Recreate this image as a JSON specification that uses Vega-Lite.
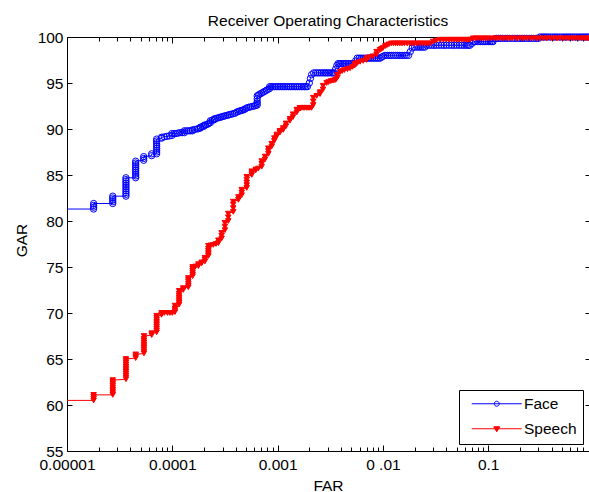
{
  "$schema": "https://vega.github.io/schema/vega-lite/v6.json",
  "width": 522,
  "height": 414,
  "autosize": {"type": "none"},
  "padding": {"left": 67, "top": 37, "right": 0, "bottom": 41},
  "background": "white",
  "title": {
    "text": "Receiver Operating Characteristics",
    "font": "Liberation Sans",
    "fontSize": 15.5,
    "fontWeight": "normal",
    "color": "black",
    "anchor": "middle",
    "baseline": "alphabetic",
    "offset": -11
  },
  "config": {
    "view": {"stroke": null},
    "axis": {
      "grid": false,
      "domainColor": "black",
      "domainWidth": 1,
      "tickColor": "black",
      "tickWidth": 1,
      "labelColor": "black",
      "labelFont": "Liberation Sans",
      "labelFontSize": 15.5,
      "titleFont": "Liberation Sans",
      "titleFontSize": 15.5,
      "titleFontWeight": "normal",
      "titleColor": "black",
      "labelFlush": false,
      "labelOverlap": false,
      "labelBound": false
    }
  },
  "data": {
    "values": [
      {"series": "Face", "far": 1e-5, "gar": 81.3},
      {"series": "Face", "far": 1.79e-5, "gar": 81.3},
      {"series": "Face", "far": 1.79e-5, "gar": 81.5},
      {"series": "Face", "far": 1.79e-5, "gar": 81.7},
      {"series": "Face", "far": 1.79e-5, "gar": 81.9},
      {"series": "Face", "far": 2.72e-5, "gar": 81.9},
      {"series": "Face", "far": 2.72e-5, "gar": 82.1},
      {"series": "Face", "far": 2.72e-5, "gar": 82.3},
      {"series": "Face", "far": 2.72e-5, "gar": 82.5},
      {"series": "Face", "far": 2.72e-5, "gar": 82.7},
      {"series": "Face", "far": 3.63e-5, "gar": 82.7},
      {"series": "Face", "far": 3.63e-5, "gar": 82.9},
      {"series": "Face", "far": 3.63e-5, "gar": 83.1},
      {"series": "Face", "far": 3.63e-5, "gar": 83.3},
      {"series": "Face", "far": 3.63e-5, "gar": 83.5},
      {"series": "Face", "far": 3.63e-5, "gar": 83.7},
      {"series": "Face", "far": 3.63e-5, "gar": 83.9},
      {"series": "Face", "far": 3.63e-5, "gar": 84.1},
      {"series": "Face", "far": 3.63e-5, "gar": 84.3},
      {"series": "Face", "far": 3.63e-5, "gar": 84.5},
      {"series": "Face", "far": 3.63e-5, "gar": 84.7},
      {"series": "Face", "far": 4.49e-5, "gar": 84.7},
      {"series": "Face", "far": 4.49e-5, "gar": 84.9},
      {"series": "Face", "far": 4.49e-5, "gar": 85.1},
      {"series": "Face", "far": 4.49e-5, "gar": 85.3},
      {"series": "Face", "far": 4.49e-5, "gar": 85.5},
      {"series": "Face", "far": 4.49e-5, "gar": 85.7},
      {"series": "Face", "far": 4.49e-5, "gar": 85.9},
      {"series": "Face", "far": 4.49e-5, "gar": 86.1},
      {"series": "Face", "far": 4.49e-5, "gar": 86.3},
      {"series": "Face", "far": 4.49e-5, "gar": 86.5},
      {"series": "Face", "far": 5.35e-5, "gar": 86.6},
      {"series": "Face", "far": 5.35e-5, "gar": 86.8},
      {"series": "Face", "far": 5.35e-5, "gar": 87.0},
      {"series": "Face", "far": 6.37e-5, "gar": 87.1},
      {"series": "Face", "far": 6.37e-5, "gar": 87.3},
      {"series": "Face", "far": 7.1e-5, "gar": 87.3},
      {"series": "Face", "far": 7.1e-5, "gar": 87.5},
      {"series": "Face", "far": 7.1e-5, "gar": 87.7},
      {"series": "Face", "far": 7.1e-5, "gar": 87.9},
      {"series": "Face", "far": 7.1e-5, "gar": 88.1},
      {"series": "Face", "far": 7.1e-5, "gar": 88.3},
      {"series": "Face", "far": 7.1e-5, "gar": 88.5},
      {"series": "Face", "far": 7.1e-5, "gar": 88.7},
      {"series": "Face", "far": 7.1e-5, "gar": 88.9},
      {"series": "Face", "far": 7.9e-5, "gar": 89.0},
      {"series": "Face", "far": 7.9e-5, "gar": 89.1},
      {"series": "Face", "far": 8.4e-5, "gar": 89.15},
      {"series": "Face", "far": 8.9e-5, "gar": 89.2},
      {"series": "Face", "far": 9.4e-5, "gar": 89.25},
      {"series": "Face", "far": 9.9e-5, "gar": 89.3},
      {"series": "Face", "far": 9.9e-5, "gar": 89.5},
      {"series": "Face", "far": 1.04e-4, "gar": 89.5},
      {"series": "Face", "far": 1.08e-4, "gar": 89.5},
      {"series": "Face", "far": 1.13e-4, "gar": 89.55},
      {"series": "Face", "far": 1.18e-4, "gar": 89.6},
      {"series": "Face", "far": 1.24e-4, "gar": 89.6},
      {"series": "Face", "far": 1.3e-4, "gar": 89.6},
      {"series": "Face", "far": 1.3e-4, "gar": 89.8},
      {"series": "Face", "far": 1.36e-4, "gar": 89.8},
      {"series": "Face", "far": 1.42e-4, "gar": 89.8},
      {"series": "Face", "far": 1.48e-4, "gar": 89.8},
      {"series": "Face", "far": 1.55e-4, "gar": 89.8},
      {"series": "Face", "far": 1.55e-4, "gar": 89.9},
      {"series": "Face", "far": 1.63e-4, "gar": 89.95},
      {"series": "Face", "far": 1.72e-4, "gar": 90.0},
      {"series": "Face", "far": 1.78e-4, "gar": 90.05},
      {"series": "Face", "far": 1.85e-4, "gar": 90.1},
      {"series": "Face", "far": 1.85e-4, "gar": 90.2},
      {"series": "Face", "far": 1.92e-4, "gar": 90.25},
      {"series": "Face", "far": 2.0e-4, "gar": 90.3},
      {"series": "Face", "far": 2.0e-4, "gar": 90.4},
      {"series": "Face", "far": 2.07e-4, "gar": 90.45},
      {"series": "Face", "far": 2.15e-4, "gar": 90.5},
      {"series": "Face", "far": 2.22e-4, "gar": 90.6},
      {"series": "Face", "far": 2.3e-4, "gar": 90.7},
      {"series": "Face", "far": 2.3e-4, "gar": 90.9},
      {"series": "Face", "far": 2.4e-4, "gar": 90.95},
      {"series": "Face", "far": 2.5e-4, "gar": 91.0},
      {"series": "Face", "far": 2.5e-4, "gar": 91.1},
      {"series": "Face", "far": 2.6e-4, "gar": 91.15},
      {"series": "Face", "far": 2.7e-4, "gar": 91.2},
      {"series": "Face", "far": 2.8e-4, "gar": 91.25},
      {"series": "Face", "far": 2.9e-4, "gar": 91.3},
      {"series": "Face", "far": 3.0e-4, "gar": 91.35},
      {"series": "Face", "far": 3.1e-4, "gar": 91.4},
      {"series": "Face", "far": 3.22e-4, "gar": 91.45},
      {"series": "Face", "far": 3.35e-4, "gar": 91.5},
      {"series": "Face", "far": 3.47e-4, "gar": 91.55},
      {"series": "Face", "far": 3.6e-4, "gar": 91.6},
      {"series": "Face", "far": 3.75e-4, "gar": 91.65},
      {"series": "Face", "far": 3.9e-4, "gar": 91.7},
      {"series": "Face", "far": 4.05e-4, "gar": 91.8},
      {"series": "Face", "far": 4.2e-4, "gar": 91.9},
      {"series": "Face", "far": 4.35e-4, "gar": 91.95},
      {"series": "Face", "far": 4.5e-4, "gar": 92.0},
      {"series": "Face", "far": 4.65e-4, "gar": 92.05},
      {"series": "Face", "far": 4.8e-4, "gar": 92.1},
      {"series": "Face", "far": 4.95e-4, "gar": 92.2},
      {"series": "Face", "far": 5.1e-4, "gar": 92.3},
      {"series": "Face", "far": 5.3e-4, "gar": 92.35},
      {"series": "Face", "far": 5.5e-4, "gar": 92.4},
      {"series": "Face", "far": 5.75e-4, "gar": 92.45},
      {"series": "Face", "far": 6.0e-4, "gar": 92.5},
      {"series": "Face", "far": 6.2e-4, "gar": 92.55},
      {"series": "Face", "far": 6.4e-4, "gar": 92.6},
      {"series": "Face", "far": 6.4e-4, "gar": 92.8},
      {"series": "Face", "far": 6.4e-4, "gar": 93.0},
      {"series": "Face", "far": 6.4e-4, "gar": 93.3},
      {"series": "Face", "far": 6.4e-4, "gar": 93.6},
      {"series": "Face", "far": 6.6e-4, "gar": 93.7},
      {"series": "Face", "far": 6.8e-4, "gar": 93.8},
      {"series": "Face", "far": 7.05e-4, "gar": 93.9},
      {"series": "Face", "far": 7.3e-4, "gar": 94.0},
      {"series": "Face", "far": 7.55e-4, "gar": 94.1},
      {"series": "Face", "far": 7.8e-4, "gar": 94.2},
      {"series": "Face", "far": 8.1e-4, "gar": 94.3},
      {"series": "Face", "far": 8.4e-4, "gar": 94.4},
      {"series": "Face", "far": 8.4e-4, "gar": 94.6},
      {"series": "Face", "far": 8.7e-4, "gar": 94.6},
      {"series": "Face", "far": 9.0e-4, "gar": 94.6},
      {"series": "Face", "far": 9.35e-4, "gar": 94.6},
      {"series": "Face", "far": 9.7e-4, "gar": 94.6},
      {"series": "Face", "far": 1.01e-3, "gar": 94.6},
      {"series": "Face", "far": 1.05e-3, "gar": 94.6},
      {"series": "Face", "far": 1.09e-3, "gar": 94.6},
      {"series": "Face", "far": 1.13e-3, "gar": 94.6},
      {"series": "Face", "far": 1.17e-3, "gar": 94.6},
      {"series": "Face", "far": 1.22e-3, "gar": 94.6},
      {"series": "Face", "far": 1.27e-3, "gar": 94.6},
      {"series": "Face", "far": 1.32e-3, "gar": 94.6},
      {"series": "Face", "far": 1.37e-3, "gar": 94.6},
      {"series": "Face", "far": 1.43e-3, "gar": 94.6},
      {"series": "Face", "far": 1.49e-3, "gar": 94.6},
      {"series": "Face", "far": 1.55e-3, "gar": 94.6},
      {"series": "Face", "far": 1.61e-3, "gar": 94.6},
      {"series": "Face", "far": 1.68e-3, "gar": 94.6},
      {"series": "Face", "far": 1.74e-3, "gar": 94.6},
      {"series": "Face", "far": 1.8e-3, "gar": 94.6},
      {"series": "Face", "far": 1.86e-3, "gar": 94.6},
      {"series": "Face", "far": 1.92e-3, "gar": 94.6},
      {"series": "Face", "far": 2.0e-3, "gar": 95.0},
      {"series": "Face", "far": 2.05e-3, "gar": 95.5},
      {"series": "Face", "far": 2.1e-3, "gar": 95.9},
      {"series": "Face", "far": 2.2e-3, "gar": 96.1},
      {"series": "Face", "far": 2.3e-3, "gar": 96.1},
      {"series": "Face", "far": 2.4e-3, "gar": 96.1},
      {"series": "Face", "far": 2.5e-3, "gar": 96.1},
      {"series": "Face", "far": 2.6e-3, "gar": 96.1},
      {"series": "Face", "far": 2.7e-3, "gar": 96.1},
      {"series": "Face", "far": 2.8e-3, "gar": 96.1},
      {"series": "Face", "far": 2.9e-3, "gar": 96.1},
      {"series": "Face", "far": 3.0e-3, "gar": 96.1},
      {"series": "Face", "far": 3.12e-3, "gar": 96.1},
      {"series": "Face", "far": 3.25e-3, "gar": 96.1},
      {"series": "Face", "far": 3.35e-3, "gar": 96.1},
      {"series": "Face", "far": 3.45e-3, "gar": 96.1},
      {"series": "Face", "far": 3.55e-3, "gar": 96.5},
      {"series": "Face", "far": 3.65e-3, "gar": 96.9},
      {"series": "Face", "far": 3.75e-3, "gar": 97.1},
      {"series": "Face", "far": 3.87e-3, "gar": 97.1},
      {"series": "Face", "far": 4.0e-3, "gar": 97.1},
      {"series": "Face", "far": 4.15e-3, "gar": 97.1},
      {"series": "Face", "far": 4.3e-3, "gar": 97.1},
      {"series": "Face", "far": 4.47e-3, "gar": 97.1},
      {"series": "Face", "far": 4.65e-3, "gar": 97.1},
      {"series": "Face", "far": 4.82e-3, "gar": 97.1},
      {"series": "Face", "far": 5.0e-3, "gar": 97.1},
      {"series": "Face", "far": 5.17e-3, "gar": 97.1},
      {"series": "Face", "far": 5.35e-3, "gar": 97.1},
      {"series": "Face", "far": 5.5e-3, "gar": 97.4},
      {"series": "Face", "far": 5.7e-3, "gar": 97.7},
      {"series": "Face", "far": 5.95e-3, "gar": 97.7},
      {"series": "Face", "far": 6.2e-3, "gar": 97.7},
      {"series": "Face", "far": 6.5e-3, "gar": 97.7},
      {"series": "Face", "far": 6.8e-3, "gar": 97.7},
      {"series": "Face", "far": 7.1e-3, "gar": 97.7},
      {"series": "Face", "far": 7.4e-3, "gar": 97.7},
      {"series": "Face", "far": 7.7e-3, "gar": 97.7},
      {"series": "Face", "far": 8.0e-3, "gar": 97.7},
      {"series": "Face", "far": 8.35e-3, "gar": 97.7},
      {"series": "Face", "far": 8.7e-3, "gar": 97.7},
      {"series": "Face", "far": 9.05e-3, "gar": 97.7},
      {"series": "Face", "far": 9.4e-3, "gar": 97.7},
      {"series": "Face", "far": 9.7e-3, "gar": 97.8},
      {"series": "Face", "far": 1.0e-2, "gar": 97.9},
      {"series": "Face", "far": 1.05e-2, "gar": 98.0},
      {"series": "Face", "far": 1.1e-2, "gar": 98.0},
      {"series": "Face", "far": 1.15e-2, "gar": 98.0},
      {"series": "Face", "far": 1.2e-2, "gar": 98.0},
      {"series": "Face", "far": 1.26e-2, "gar": 98.0},
      {"series": "Face", "far": 1.32e-2, "gar": 98.0},
      {"series": "Face", "far": 1.38e-2, "gar": 98.0},
      {"series": "Face", "far": 1.45e-2, "gar": 98.0},
      {"series": "Face", "far": 1.52e-2, "gar": 98.0},
      {"series": "Face", "far": 1.6e-2, "gar": 98.0},
      {"series": "Face", "far": 1.67e-2, "gar": 98.0},
      {"series": "Face", "far": 1.75e-2, "gar": 98.0},
      {"series": "Face", "far": 1.82e-2, "gar": 98.4},
      {"series": "Face", "far": 1.9e-2, "gar": 98.8},
      {"series": "Face", "far": 2.0e-2, "gar": 98.9},
      {"series": "Face", "far": 2.1e-2, "gar": 98.9},
      {"series": "Face", "far": 2.2e-2, "gar": 98.9},
      {"series": "Face", "far": 2.3e-2, "gar": 98.9},
      {"series": "Face", "far": 2.4e-2, "gar": 98.9},
      {"series": "Face", "far": 2.5e-2, "gar": 98.9},
      {"series": "Face", "far": 2.6e-2, "gar": 99.1},
      {"series": "Face", "far": 2.75e-2, "gar": 99.1},
      {"series": "Face", "far": 2.9e-2, "gar": 99.1},
      {"series": "Face", "far": 3.05e-2, "gar": 99.1},
      {"series": "Face", "far": 3.2e-2, "gar": 99.1},
      {"series": "Face", "far": 3.4e-2, "gar": 99.1},
      {"series": "Face", "far": 3.6e-2, "gar": 99.1},
      {"series": "Face", "far": 3.8e-2, "gar": 99.1},
      {"series": "Face", "far": 4.0e-2, "gar": 99.1},
      {"series": "Face", "far": 4.25e-2, "gar": 99.1},
      {"series": "Face", "far": 4.5e-2, "gar": 99.1},
      {"series": "Face", "far": 4.75e-2, "gar": 99.1},
      {"series": "Face", "far": 5.0e-2, "gar": 99.1},
      {"series": "Face", "far": 5.3e-2, "gar": 99.1},
      {"series": "Face", "far": 5.6e-2, "gar": 99.1},
      {"series": "Face", "far": 5.9e-2, "gar": 99.1},
      {"series": "Face", "far": 6.2e-2, "gar": 99.1},
      {"series": "Face", "far": 6.45e-2, "gar": 99.1},
      {"series": "Face", "far": 6.7e-2, "gar": 99.1},
      {"series": "Face", "far": 7.0e-2, "gar": 99.3},
      {"series": "Face", "far": 7.3e-2, "gar": 99.5},
      {"series": "Face", "far": 7.6e-2, "gar": 99.5},
      {"series": "Face", "far": 8.0e-2, "gar": 99.5},
      {"series": "Face", "far": 8.4e-2, "gar": 99.5},
      {"series": "Face", "far": 8.8e-2, "gar": 99.5},
      {"series": "Face", "far": 9.2e-2, "gar": 99.5},
      {"series": "Face", "far": 9.6e-2, "gar": 99.5},
      {"series": "Face", "far": 0.1, "gar": 99.5},
      {"series": "Face", "far": 0.104, "gar": 99.5},
      {"series": "Face", "far": 0.108, "gar": 99.5},
      {"series": "Face", "far": 0.111, "gar": 99.5},
      {"series": "Face", "far": 0.116, "gar": 99.8},
      {"series": "Face", "far": 0.12, "gar": 99.85},
      {"series": "Face", "far": 0.125, "gar": 99.85},
      {"series": "Face", "far": 0.13, "gar": 99.85},
      {"series": "Face", "far": 0.137, "gar": 99.85},
      {"series": "Face", "far": 0.145, "gar": 99.85},
      {"series": "Face", "far": 0.152, "gar": 99.85},
      {"series": "Face", "far": 0.16, "gar": 99.85},
      {"series": "Face", "far": 0.17, "gar": 99.85},
      {"series": "Face", "far": 0.18, "gar": 99.85},
      {"series": "Face", "far": 0.19, "gar": 99.85},
      {"series": "Face", "far": 0.2, "gar": 99.85},
      {"series": "Face", "far": 0.21, "gar": 99.85},
      {"series": "Face", "far": 0.22, "gar": 99.85},
      {"series": "Face", "far": 0.232, "gar": 99.85},
      {"series": "Face", "far": 0.245, "gar": 99.85},
      {"series": "Face", "far": 0.257, "gar": 99.85},
      {"series": "Face", "far": 0.27, "gar": 99.85},
      {"series": "Face", "far": 0.285, "gar": 99.85},
      {"series": "Face", "far": 0.3, "gar": 99.85},
      {"series": "Face", "far": 0.31, "gar": 100},
      {"series": "Face", "far": 0.325, "gar": 100},
      {"series": "Face", "far": 0.34, "gar": 100},
      {"series": "Face", "far": 0.355, "gar": 100},
      {"series": "Face", "far": 0.37, "gar": 100},
      {"series": "Face", "far": 0.39, "gar": 100},
      {"series": "Face", "far": 0.41, "gar": 100},
      {"series": "Face", "far": 0.43, "gar": 100},
      {"series": "Face", "far": 0.45, "gar": 100},
      {"series": "Face", "far": 0.475, "gar": 100},
      {"series": "Face", "far": 0.5, "gar": 100},
      {"series": "Face", "far": 0.525, "gar": 100},
      {"series": "Face", "far": 0.55, "gar": 100},
      {"series": "Face", "far": 0.575, "gar": 100},
      {"series": "Face", "far": 0.6, "gar": 100},
      {"series": "Face", "far": 0.63, "gar": 100},
      {"series": "Face", "far": 0.66, "gar": 100},
      {"series": "Face", "far": 0.695, "gar": 100},
      {"series": "Face", "far": 0.73, "gar": 100},
      {"series": "Face", "far": 0.765, "gar": 100},
      {"series": "Face", "far": 0.8, "gar": 100},
      {"series": "Face", "far": 0.835, "gar": 100},
      {"series": "Face", "far": 0.87, "gar": 100},
      {"series": "Face", "far": 0.905, "gar": 100},
      {"series": "Speech", "far": 1e-5, "gar": 60.5},
      {"series": "Speech", "far": 1.79e-5, "gar": 60.5},
      {"series": "Speech", "far": 1.79e-5, "gar": 60.7},
      {"series": "Speech", "far": 1.79e-5, "gar": 60.9},
      {"series": "Speech", "far": 1.79e-5, "gar": 61.1},
      {"series": "Speech", "far": 2.72e-5, "gar": 61.1},
      {"series": "Speech", "far": 2.72e-5, "gar": 61.3},
      {"series": "Speech", "far": 2.72e-5, "gar": 61.5},
      {"series": "Speech", "far": 2.72e-5, "gar": 61.7},
      {"series": "Speech", "far": 2.72e-5, "gar": 61.9},
      {"series": "Speech", "far": 2.72e-5, "gar": 62.1},
      {"series": "Speech", "far": 2.72e-5, "gar": 62.3},
      {"series": "Speech", "far": 2.72e-5, "gar": 62.5},
      {"series": "Speech", "far": 2.72e-5, "gar": 62.7},
      {"series": "Speech", "far": 3.63e-5, "gar": 62.8},
      {"series": "Speech", "far": 3.63e-5, "gar": 63.0},
      {"series": "Speech", "far": 3.63e-5, "gar": 63.2},
      {"series": "Speech", "far": 3.63e-5, "gar": 63.4},
      {"series": "Speech", "far": 3.63e-5, "gar": 63.6},
      {"series": "Speech", "far": 3.63e-5, "gar": 63.8},
      {"series": "Speech", "far": 3.63e-5, "gar": 64.0},
      {"series": "Speech", "far": 3.63e-5, "gar": 64.2},
      {"series": "Speech", "far": 3.63e-5, "gar": 64.4},
      {"series": "Speech", "far": 3.63e-5, "gar": 64.6},
      {"series": "Speech", "far": 3.63e-5, "gar": 64.8},
      {"series": "Speech", "far": 3.63e-5, "gar": 65.0},
      {"series": "Speech", "far": 4.49e-5, "gar": 65.1},
      {"series": "Speech", "far": 4.49e-5, "gar": 65.3},
      {"series": "Speech", "far": 4.49e-5, "gar": 65.5},
      {"series": "Speech", "far": 5.38e-5, "gar": 65.6},
      {"series": "Speech", "far": 5.38e-5, "gar": 65.8},
      {"series": "Speech", "far": 5.38e-5, "gar": 66.0},
      {"series": "Speech", "far": 5.38e-5, "gar": 66.2},
      {"series": "Speech", "far": 5.38e-5, "gar": 66.4},
      {"series": "Speech", "far": 5.38e-5, "gar": 66.6},
      {"series": "Speech", "far": 5.38e-5, "gar": 66.8},
      {"series": "Speech", "far": 5.38e-5, "gar": 67.0},
      {"series": "Speech", "far": 5.38e-5, "gar": 67.2},
      {"series": "Speech", "far": 5.38e-5, "gar": 67.5},
      {"series": "Speech", "far": 6.37e-5, "gar": 67.6},
      {"series": "Speech", "far": 6.37e-5, "gar": 67.8},
      {"series": "Speech", "far": 7.1e-5, "gar": 67.9},
      {"series": "Speech", "far": 7.1e-5, "gar": 68.1},
      {"series": "Speech", "far": 7.1e-5, "gar": 68.3},
      {"series": "Speech", "far": 7.1e-5, "gar": 68.5},
      {"series": "Speech", "far": 7.1e-5, "gar": 68.7},
      {"series": "Speech", "far": 7.1e-5, "gar": 68.9},
      {"series": "Speech", "far": 7.1e-5, "gar": 69.1},
      {"series": "Speech", "far": 7.1e-5, "gar": 69.3},
      {"series": "Speech", "far": 7.1e-5, "gar": 69.5},
      {"series": "Speech", "far": 7.1e-5, "gar": 69.7},
      {"series": "Speech", "far": 7.9e-5, "gar": 69.8},
      {"series": "Speech", "far": 7.9e-5, "gar": 70.0},
      {"series": "Speech", "far": 8.4e-5, "gar": 70.0},
      {"series": "Speech", "far": 9.0e-5, "gar": 70.0},
      {"series": "Speech", "far": 9.5e-5, "gar": 70.0},
      {"series": "Speech", "far": 1.0e-4, "gar": 70.0},
      {"series": "Speech", "far": 1.06e-4, "gar": 70.1},
      {"series": "Speech", "far": 1.06e-4, "gar": 70.3},
      {"series": "Speech", "far": 1.06e-4, "gar": 70.5},
      {"series": "Speech", "far": 1.06e-4, "gar": 70.8},
      {"series": "Speech", "far": 1.16e-4, "gar": 70.9},
      {"series": "Speech", "far": 1.16e-4, "gar": 71.1},
      {"series": "Speech", "far": 1.16e-4, "gar": 71.3},
      {"series": "Speech", "far": 1.16e-4, "gar": 71.5},
      {"series": "Speech", "far": 1.16e-4, "gar": 71.7},
      {"series": "Speech", "far": 1.16e-4, "gar": 71.9},
      {"series": "Speech", "far": 1.16e-4, "gar": 72.1},
      {"series": "Speech", "far": 1.16e-4, "gar": 72.4},
      {"series": "Speech", "far": 1.27e-4, "gar": 72.5},
      {"series": "Speech", "far": 1.27e-4, "gar": 72.7},
      {"series": "Speech", "far": 1.42e-4, "gar": 72.8},
      {"series": "Speech", "far": 1.42e-4, "gar": 73.0},
      {"series": "Speech", "far": 1.42e-4, "gar": 73.2},
      {"series": "Speech", "far": 1.42e-4, "gar": 73.4},
      {"series": "Speech", "far": 1.42e-4, "gar": 73.6},
      {"series": "Speech", "far": 1.42e-4, "gar": 73.8},
      {"series": "Speech", "far": 1.56e-4, "gar": 74.0},
      {"series": "Speech", "far": 1.56e-4, "gar": 74.2},
      {"series": "Speech", "far": 1.56e-4, "gar": 74.4},
      {"series": "Speech", "far": 1.56e-4, "gar": 74.6},
      {"series": "Speech", "far": 1.56e-4, "gar": 74.8},
      {"series": "Speech", "far": 1.56e-4, "gar": 75.0},
      {"series": "Speech", "far": 1.66e-4, "gar": 75.05},
      {"series": "Speech", "far": 1.77e-4, "gar": 75.1},
      {"series": "Speech", "far": 1.77e-4, "gar": 75.3},
      {"series": "Speech", "far": 1.9e-4, "gar": 75.4},
      {"series": "Speech", "far": 1.9e-4, "gar": 75.5},
      {"series": "Speech", "far": 2.04e-4, "gar": 75.6},
      {"series": "Speech", "far": 2.04e-4, "gar": 75.8},
      {"series": "Speech", "far": 2.04e-4, "gar": 76.0},
      {"series": "Speech", "far": 2.2e-4, "gar": 76.2},
      {"series": "Speech", "far": 2.2e-4, "gar": 76.4},
      {"series": "Speech", "far": 2.2e-4, "gar": 76.6},
      {"series": "Speech", "far": 2.2e-4, "gar": 76.8},
      {"series": "Speech", "far": 2.2e-4, "gar": 77.0},
      {"series": "Speech", "far": 2.2e-4, "gar": 77.3},
      {"series": "Speech", "far": 2.32e-4, "gar": 77.35},
      {"series": "Speech", "far": 2.45e-4, "gar": 77.4},
      {"series": "Speech", "far": 2.6e-4, "gar": 77.5},
      {"series": "Speech", "far": 2.74e-4, "gar": 77.6},
      {"series": "Speech", "far": 2.74e-4, "gar": 77.9},
      {"series": "Speech", "far": 2.94e-4, "gar": 78.1},
      {"series": "Speech", "far": 2.94e-4, "gar": 78.4},
      {"series": "Speech", "far": 2.94e-4, "gar": 78.7},
      {"series": "Speech", "far": 3.16e-4, "gar": 79.0},
      {"series": "Speech", "far": 3.16e-4, "gar": 79.4},
      {"series": "Speech", "far": 3.16e-4, "gar": 79.8},
      {"series": "Speech", "far": 3.4e-4, "gar": 80.0},
      {"series": "Speech", "far": 3.4e-4, "gar": 80.4},
      {"series": "Speech", "far": 3.4e-4, "gar": 80.8},
      {"series": "Speech", "far": 3.79e-4, "gar": 81.0},
      {"series": "Speech", "far": 3.79e-4, "gar": 81.4},
      {"series": "Speech", "far": 3.79e-4, "gar": 81.8},
      {"series": "Speech", "far": 3.79e-4, "gar": 82.1},
      {"series": "Speech", "far": 4.24e-4, "gar": 82.3},
      {"series": "Speech", "far": 4.24e-4, "gar": 82.6},
      {"series": "Speech", "far": 4.56e-4, "gar": 82.8},
      {"series": "Speech", "far": 4.56e-4, "gar": 83.1},
      {"series": "Speech", "far": 4.56e-4, "gar": 83.4},
      {"series": "Speech", "far": 5.09e-4, "gar": 83.6},
      {"series": "Speech", "far": 5.09e-4, "gar": 83.9},
      {"series": "Speech", "far": 5.09e-4, "gar": 84.2},
      {"series": "Speech", "far": 5.09e-4, "gar": 84.5},
      {"series": "Speech", "far": 5.09e-4, "gar": 84.8},
      {"series": "Speech", "far": 5.68e-4, "gar": 85.0},
      {"series": "Speech", "far": 5.68e-4, "gar": 85.2},
      {"series": "Speech", "far": 5.68e-4, "gar": 85.4},
      {"series": "Speech", "far": 6.2e-4, "gar": 85.5},
      {"series": "Speech", "far": 6.2e-4, "gar": 85.6},
      {"series": "Speech", "far": 6.56e-4, "gar": 85.7},
      {"series": "Speech", "far": 7.06e-4, "gar": 85.9},
      {"series": "Speech", "far": 7.06e-4, "gar": 86.2},
      {"series": "Speech", "far": 7.06e-4, "gar": 86.5},
      {"series": "Speech", "far": 7.6e-4, "gar": 86.7},
      {"series": "Speech", "far": 7.6e-4, "gar": 87.0},
      {"series": "Speech", "far": 8.17e-4, "gar": 87.3},
      {"series": "Speech", "far": 8.17e-4, "gar": 87.6},
      {"series": "Speech", "far": 8.17e-4, "gar": 87.9},
      {"series": "Speech", "far": 8.79e-4, "gar": 88.1},
      {"series": "Speech", "far": 8.79e-4, "gar": 88.4},
      {"series": "Speech", "far": 9.3e-4, "gar": 88.7},
      {"series": "Speech", "far": 9.3e-4, "gar": 89.0},
      {"series": "Speech", "far": 9.8e-4, "gar": 89.2},
      {"series": "Speech", "far": 9.8e-4, "gar": 89.4},
      {"series": "Speech", "far": 1.05e-3, "gar": 89.6},
      {"series": "Speech", "far": 1.05e-3, "gar": 89.8},
      {"series": "Speech", "far": 1.13e-3, "gar": 89.9},
      {"series": "Speech", "far": 1.13e-3, "gar": 90.1},
      {"series": "Speech", "far": 1.2e-3, "gar": 90.3},
      {"series": "Speech", "far": 1.2e-3, "gar": 90.6},
      {"series": "Speech", "far": 1.31e-3, "gar": 90.9},
      {"series": "Speech", "far": 1.31e-3, "gar": 91.1},
      {"series": "Speech", "far": 1.4e-3, "gar": 91.3},
      {"series": "Speech", "far": 1.4e-3, "gar": 91.6},
      {"series": "Speech", "far": 1.52e-3, "gar": 91.8},
      {"series": "Speech", "far": 1.52e-3, "gar": 92.1},
      {"series": "Speech", "far": 1.63e-3, "gar": 92.2},
      {"series": "Speech", "far": 1.63e-3, "gar": 92.3},
      {"series": "Speech", "far": 1.69e-3, "gar": 92.3},
      {"series": "Speech", "far": 1.75e-3, "gar": 92.3},
      {"series": "Speech", "far": 1.81e-3, "gar": 92.3},
      {"series": "Speech", "far": 1.88e-3, "gar": 92.3},
      {"series": "Speech", "far": 1.95e-3, "gar": 92.3},
      {"series": "Speech", "far": 2.02e-3, "gar": 92.3},
      {"series": "Speech", "far": 2.1e-3, "gar": 92.3},
      {"series": "Speech", "far": 2.18e-3, "gar": 92.6},
      {"series": "Speech", "far": 2.18e-3, "gar": 93.0},
      {"series": "Speech", "far": 2.18e-3, "gar": 93.4},
      {"series": "Speech", "far": 2.35e-3, "gar": 93.6},
      {"series": "Speech", "far": 2.53e-3, "gar": 93.8},
      {"series": "Speech", "far": 2.53e-3, "gar": 94.0},
      {"series": "Speech", "far": 2.7e-3, "gar": 94.3},
      {"series": "Speech", "far": 2.7e-3, "gar": 94.7},
      {"series": "Speech", "far": 2.92e-3, "gar": 95.0},
      {"series": "Speech", "far": 3.05e-3, "gar": 95.1},
      {"series": "Speech", "far": 3.2e-3, "gar": 95.2},
      {"series": "Speech", "far": 3.35e-3, "gar": 95.25},
      {"series": "Speech", "far": 3.5e-3, "gar": 95.3},
      {"series": "Speech", "far": 3.6e-3, "gar": 95.4},
      {"series": "Speech", "far": 3.7e-3, "gar": 95.6},
      {"series": "Speech", "far": 3.7e-3, "gar": 95.9},
      {"series": "Speech", "far": 3.92e-3, "gar": 96.2},
      {"series": "Speech", "far": 4.1e-3, "gar": 96.3},
      {"series": "Speech", "far": 4.3e-3, "gar": 96.4},
      {"series": "Speech", "far": 4.6e-3, "gar": 96.5},
      {"series": "Speech", "far": 4.88e-3, "gar": 96.6},
      {"series": "Speech", "far": 5.15e-3, "gar": 96.75},
      {"series": "Speech", "far": 5.4e-3, "gar": 96.9},
      {"series": "Speech", "far": 5.4e-3, "gar": 97.1},
      {"series": "Speech", "far": 5.75e-3, "gar": 97.2},
      {"series": "Speech", "far": 6.07e-3, "gar": 97.3},
      {"series": "Speech", "far": 6.5e-3, "gar": 97.4},
      {"series": "Speech", "far": 7.0e-3, "gar": 97.5},
      {"series": "Speech", "far": 7.0e-3, "gar": 97.7},
      {"series": "Speech", "far": 7.5e-3, "gar": 97.8},
      {"series": "Speech", "far": 8.05e-3, "gar": 97.9},
      {"series": "Speech", "far": 8.7e-3, "gar": 98.1},
      {"series": "Speech", "far": 8.7e-3, "gar": 98.4},
      {"series": "Speech", "far": 9.38e-3, "gar": 98.6},
      {"series": "Speech", "far": 9.7e-3, "gar": 98.7},
      {"series": "Speech", "far": 1.0e-2, "gar": 98.8},
      {"series": "Speech", "far": 1.05e-2, "gar": 99.0},
      {"series": "Speech", "far": 1.09e-2, "gar": 99.1},
      {"series": "Speech", "far": 1.14e-2, "gar": 99.2},
      {"series": "Speech", "far": 1.2e-2, "gar": 99.3},
      {"series": "Speech", "far": 1.26e-2, "gar": 99.3},
      {"series": "Speech", "far": 1.32e-2, "gar": 99.3},
      {"series": "Speech", "far": 1.38e-2, "gar": 99.3},
      {"series": "Speech", "far": 1.45e-2, "gar": 99.3},
      {"series": "Speech", "far": 1.52e-2, "gar": 99.3},
      {"series": "Speech", "far": 1.6e-2, "gar": 99.3},
      {"series": "Speech", "far": 1.7e-2, "gar": 99.3},
      {"series": "Speech", "far": 1.8e-2, "gar": 99.3},
      {"series": "Speech", "far": 1.9e-2, "gar": 99.3},
      {"series": "Speech", "far": 2.0e-2, "gar": 99.3},
      {"series": "Speech", "far": 2.12e-2, "gar": 99.3},
      {"series": "Speech", "far": 2.25e-2, "gar": 99.3},
      {"series": "Speech", "far": 2.37e-2, "gar": 99.3},
      {"series": "Speech", "far": 2.5e-2, "gar": 99.3},
      {"series": "Speech", "far": 2.65e-2, "gar": 99.3},
      {"series": "Speech", "far": 2.8e-2, "gar": 99.3},
      {"series": "Speech", "far": 3.0e-2, "gar": 99.5},
      {"series": "Speech", "far": 3.2e-2, "gar": 99.6},
      {"series": "Speech", "far": 3.5e-2, "gar": 99.7},
      {"series": "Speech", "far": 3.75e-2, "gar": 99.7},
      {"series": "Speech", "far": 4.0e-2, "gar": 99.7},
      {"series": "Speech", "far": 4.25e-2, "gar": 99.7},
      {"series": "Speech", "far": 4.5e-2, "gar": 99.7},
      {"series": "Speech", "far": 4.75e-2, "gar": 99.7},
      {"series": "Speech", "far": 5.0e-2, "gar": 99.7},
      {"series": "Speech", "far": 5.3e-2, "gar": 99.7},
      {"series": "Speech", "far": 5.6e-2, "gar": 99.7},
      {"series": "Speech", "far": 5.9e-2, "gar": 99.7},
      {"series": "Speech", "far": 6.2e-2, "gar": 99.7},
      {"series": "Speech", "far": 6.45e-2, "gar": 99.7},
      {"series": "Speech", "far": 6.7e-2, "gar": 99.7},
      {"series": "Speech", "far": 7.2e-2, "gar": 99.85},
      {"series": "Speech", "far": 7.6e-2, "gar": 99.85},
      {"series": "Speech", "far": 0.08, "gar": 99.85},
      {"series": "Speech", "far": 0.085, "gar": 99.85},
      {"series": "Speech", "far": 0.09, "gar": 99.85},
      {"series": "Speech", "far": 0.095, "gar": 99.85},
      {"series": "Speech", "far": 0.1, "gar": 99.85},
      {"series": "Speech", "far": 0.107, "gar": 99.85},
      {"series": "Speech", "far": 0.115, "gar": 99.85},
      {"series": "Speech", "far": 0.122, "gar": 99.85},
      {"series": "Speech", "far": 0.13, "gar": 99.85},
      {"series": "Speech", "far": 0.14, "gar": 99.85},
      {"series": "Speech", "far": 0.15, "gar": 99.85},
      {"series": "Speech", "far": 0.16, "gar": 99.85},
      {"series": "Speech", "far": 0.17, "gar": 99.85},
      {"series": "Speech", "far": 0.185, "gar": 99.85},
      {"series": "Speech", "far": 0.2, "gar": 99.85},
      {"series": "Speech", "far": 0.215, "gar": 99.85},
      {"series": "Speech", "far": 0.23, "gar": 99.85},
      {"series": "Speech", "far": 0.25, "gar": 99.85},
      {"series": "Speech", "far": 0.27, "gar": 99.85},
      {"series": "Speech", "far": 0.29, "gar": 99.85},
      {"series": "Speech", "far": 0.31, "gar": 99.85},
      {"series": "Speech", "far": 0.335, "gar": 99.85},
      {"series": "Speech", "far": 0.36, "gar": 99.85},
      {"series": "Speech", "far": 0.39, "gar": 99.85},
      {"series": "Speech", "far": 0.42, "gar": 99.85},
      {"series": "Speech", "far": 0.45, "gar": 99.85},
      {"series": "Speech", "far": 0.48, "gar": 99.85},
      {"series": "Speech", "far": 0.515, "gar": 99.85},
      {"series": "Speech", "far": 0.55, "gar": 99.85},
      {"series": "Speech", "far": 0.59, "gar": 99.85},
      {"series": "Speech", "far": 0.63, "gar": 99.85},
      {"series": "Speech", "far": 0.675, "gar": 99.85},
      {"series": "Speech", "far": 0.72, "gar": 99.85},
      {"series": "Speech", "far": 0.77, "gar": 99.85},
      {"series": "Speech", "far": 0.82, "gar": 99.85},
      {"series": "Speech", "far": 0.86, "gar": 99.85},
      {"series": "Speech", "far": 0.905, "gar": 99.85}
    ]
  },
  "layer": [
    {
      "mark": {"type": "line", "strokeWidth": 1},
      "encoding": {
        "x": {
          "field": "far",
          "type": "quantitative",
          "scale": {"type": "log", "domain": [1e-5, 0.906]},
          "axis": {
            "orient": "bottom",
            "title": "FAR",
            "titleBaseline": "alphabetic",
            "titleY": 39,
            "values": [1e-5, 2e-5, 3e-5, 4e-5, 5e-5, 6e-5, 7e-5, 8e-5, 9e-5, 1e-4, 2e-4, 3e-4, 4e-4, 5e-4, 6e-4, 7e-4, 8e-4, 9e-4, 1e-3, 2e-3, 3e-3, 4e-3, 5e-3, 6e-3, 7e-3, 8e-3, 9e-3, 1e-2, 2e-2, 3e-2, 4e-2, 5e-2, 6e-2, 7e-2, 8e-2, 9e-2, 0.1, 0.2, 0.3, 0.4, 0.5, 0.6, 0.7, 0.8, 0.9],
            "labelExpr": "abs(datum.value - 0.00001) < 1e-9 ? '0.00001' : abs(datum.value - 0.0001) < 1e-8 ? '0.0001' : abs(datum.value - 0.001) < 1e-7 ? '0.001' : abs(datum.value - 0.01) < 1e-6 ? '0 .01' : abs(datum.value - 0.1) < 1e-5 ? '0.1' : ''",
            "tickSize": {"condition": {"test": "abs(log(datum.value) / LN10 - round(log(datum.value) / LN10)) < 0.001", "value": -6}, "value": -4},
            "labelPadding": 12
          }
        },
        "y": {
          "field": "gar",
          "type": "quantitative",
          "scale": {"domain": [55, 100]},
          "axis": {
            "orient": "left",
            "title": "GAR",
            "titleAngle": -90,
            "titleBaseline": "alphabetic",
            "titleX": -41,
            "titleY": 203,
            "values": [55, 60, 65, 70, 75, 80, 85, 90, 95, 100],
            "tickSize": -5,
            "labelPadding": 9
          }
        },
        "color": {
          "field": "series",
          "type": "nominal",
          "scale": {"domain": ["Face", "Speech"], "range": ["#0000ff", "#ff0000"]},
          "legend": {
            "orient": "none",
            "legendX": 392,
            "legendY": 353,
            "title": null,
            "strokeColor": "black",
            "fillColor": "white",
            "padding": 6,
            "cornerRadius": 0,
            "symbolSize": 100,
            "symbolStrokeWidth": 1,
            "labelOffset": 43.5,
            "labelFont": "Liberation Sans",
            "labelFontSize": 15.5,
            "labelColor": "black",
            "rowPadding": 8,
            "encode": {
              "symbols": {
                "update": {
                  "shape": {"signal": "datum.value === 'Face' ? 'M-0.2,0L9.8,0M5.3,0A0.5,0.5,0,1,1,4.3,0A0.5,0.5,0,1,1,5.3,0' : 'M-0.2,0L9.8,0M4.2,-0.4L5.4,-0.4L4.8,0.6Z'"},
                  "fill": {"signal": "datum.value === 'Face' ? 'transparent' : '#ff0000'"},
                  "opacity": {"value": 1},
                  "strokeWidth": {"value": 1}
                }
              }
            }
          }
        },
        "order": {"value": null}
      }
    },
    {
      "transform": [{"filter": "datum.far > 1e-5"}],
      "mark": {"type": "point", "opacity": 1, "strokeWidth": 1, "filled": false},
      "encoding": {
        "x": {
          "field": "far",
          "type": "quantitative",
          "scale": {"type": "log", "domain": [1e-5, 0.906]},
          "axis": {
            "orient": "top",
            "title": null,
            "labels": false,
            "values": [1e-5, 2e-5, 3e-5, 4e-5, 5e-5, 6e-5, 7e-5, 8e-5, 9e-5, 1e-4, 2e-4, 3e-4, 4e-4, 5e-4, 6e-4, 7e-4, 8e-4, 9e-4, 1e-3, 2e-3, 3e-3, 4e-3, 5e-3, 6e-3, 7e-3, 8e-3, 9e-3, 1e-2, 2e-2, 3e-2, 4e-2, 5e-2, 6e-2, 7e-2, 8e-2, 9e-2, 0.1, 0.2, 0.3, 0.4, 0.5, 0.6, 0.7, 0.8, 0.9],
            "tickSize": {"condition": {"test": "abs(log(datum.value) / LN10 - round(log(datum.value) / LN10)) < 0.001", "value": -6}, "value": -4}
          }
        },
        "y": {
          "field": "gar",
          "type": "quantitative",
          "scale": {"domain": [55, 100]},
          "axis": {
            "orient": "right",
            "title": null,
            "labels": false,
            "values": [55, 60, 65, 70, 75, 80, 85, 90, 95, 100],
            "tickSize": -4
          }
        },
        "stroke": {"condition": {"test": "datum.series === 'Face'", "value": "#0000ff"}, "value": "#ff0000"},
        "fill": {"condition": {"test": "datum.series === 'Face'", "value": "transparent"}, "value": "#ff0000"},
        "shape": {"condition": {"test": "datum.series === 'Face'", "value": "circle"}, "value": "triangle-down"},
        "size": {"condition": {"test": "datum.series === 'Face'", "value": 40}, "value": 30}
      }
    }
  ],
  "resolve": {"axis": {"x": "independent", "y": "independent"}}
}
